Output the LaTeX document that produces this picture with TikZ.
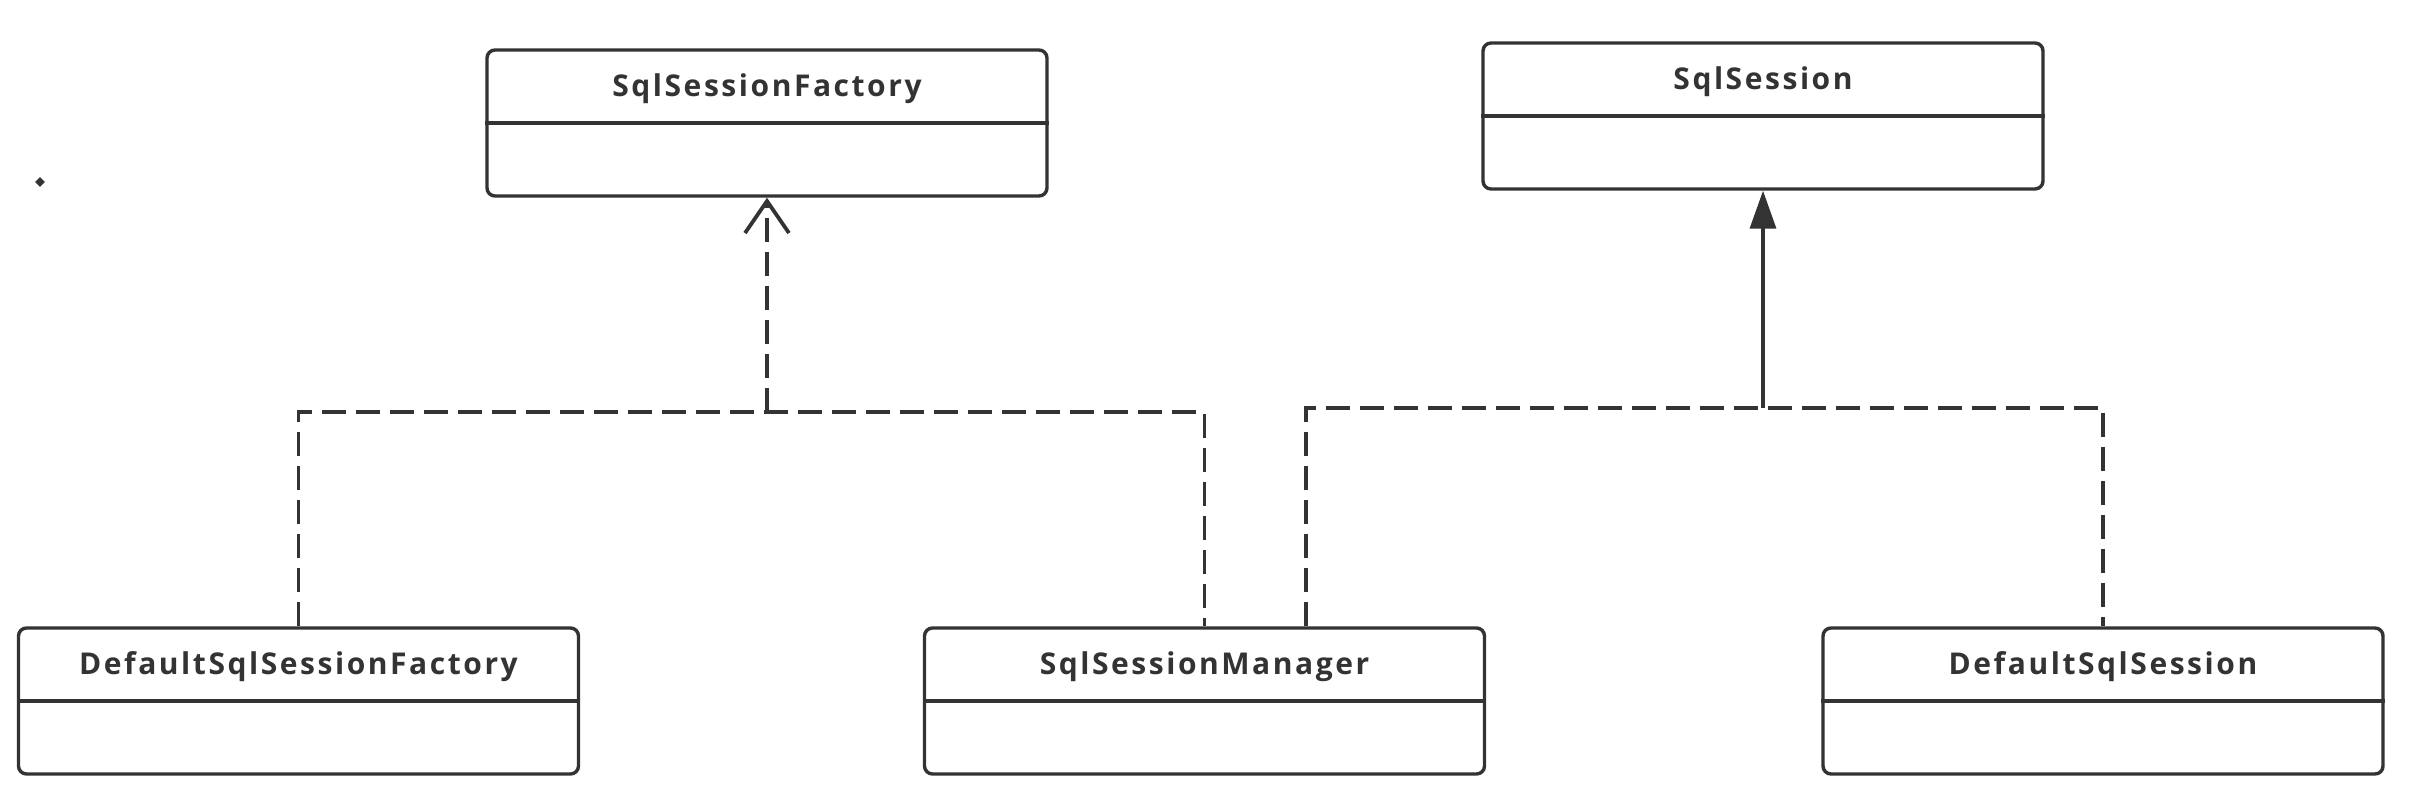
\documentclass[tikz,border=0pt]{standalone}
\usepackage{fontspec}
\setmainfont{Open Sans}
\newfontfamily\titlefont[LetterSpace=8.5]{Open Sans}
\usetikzlibrary{arrows.meta,calc,shapes.geometric}
\definecolor{ink}{HTML}{333333}
\tikzset{
  clsbox/.style={draw=ink, line width=1.7pt, rounded corners=4pt, fill=white,
    minimum width=280pt, minimum height=73pt, inner sep=0pt},
  clstitle/.style={text=ink, font=\titlefont\bfseries\fontsize{15}{17}\selectfont, inner sep=0pt},
  divider/.style={draw=ink, line width=1.7pt},
  dashline/.style={draw=ink, line width=1.7pt, dash pattern=on 12pt off 5pt},
  solidline/.style={draw=ink, line width=1.7pt},
  realize/.style={-{Straight Barb[length=16pt,width=22pt,line width=1.9pt]}},
  general/.style={-{Triangle[length=19pt,width=13pt]}},
}
\newcommand\umlclass[4]{%
  \node[clsbox] (#1) at (#2,#3) {};
  \node[clstitle] (#1-t) at ([yshift=-1.5pt]$(#1.north)!0.5!(#1.center)$) {#4};
  \draw[divider] (#1.west) -- (#1.east);
}
\begin{document}
\begin{tikzpicture}[x=0.5pt,y=-0.5pt]
\useasboundingbox (0,0) rectangle (2410,802);
\umlclass{ssf}{767}{123}{SqlSessionFactory}
\umlclass{ss}{1763}{116}{SqlSession}
\umlclass{dssf}{298.5}{701}{DefaultSqlSessionFactory}
\umlclass{ssm}{1204.5}{701}{SqlSessionManager}
\umlclass{dss}{2103}{701}{DefaultSqlSession}
\coordinate (j1) at (767,412);
\coordinate (j2) at (1763,408);
\coordinate (ssmR) at ([xshift=50.75pt]ssm.north);
\draw[dashline] (dssf.north) |- (j1) -| (ssm.north);
\draw[dashline, realize] (j1) -- (ssf.south);
\draw[dashline] (ssmR) |- (j2) -| (dss.north);
\draw[solidline, general, fill=ink] (j2) -- (ss.south);
\node[fill=ink, diamond, inner sep=0pt, minimum size=5pt] (dot) at (40,182) {};
\end{tikzpicture}
\end{document}
